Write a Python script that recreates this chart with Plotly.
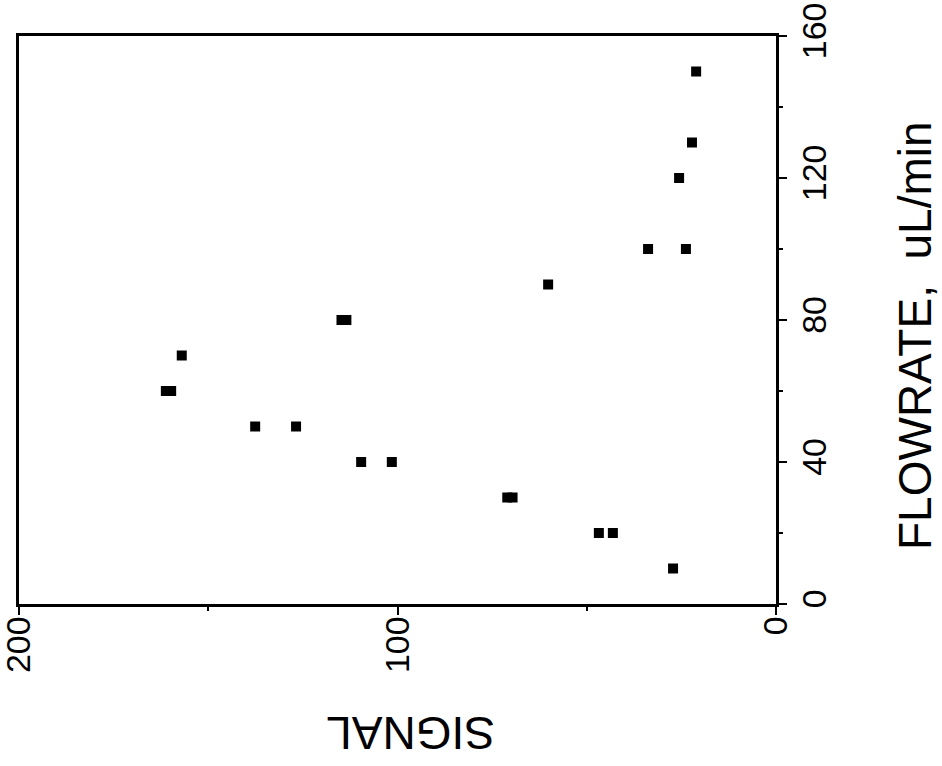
import plotly.graph_objects as go

# Data read from the (rotated) reference figure
flowrate = [10, 20, 20, 30, 30, 40, 40, 50, 50, 60, 60, 70, 80, 80, 90, 100, 100, 120, 130, 150]
signal = [27.2, 46.8, 43.1, 71.0, 69.6, 109.6, 101.5, 137.6, 126.8, 161.2, 159.8, 157.0,
          114.8, 113.5, 60.2, 33.8, 23.8, 25.6, 22.2, 21.1]

x_ticks = [0, 100, 200]
y_ticks = [0, 40, 80, 120, 160]

FONT = "Liberation Sans, Arial, Helvetica, sans-serif"

W, H = 942, 766
L, T = 19, 36
PW, PH = 776 - 19, 604 - 36
R = W - L - PW
B = H - T - PH

fig = go.Figure()
fig.add_trace(go.Scatter(
    x=signal, y=flowrate, mode="markers",
    marker=dict(symbol="square", size=10, color="black", line=dict(width=0)),
    showlegend=False, hoverinfo="skip"))

fig.update_layout(
    template="none",
    width=W, height=H,
    margin=dict(l=L, r=R, t=T, b=B, autoexpand=False),
    paper_bgcolor="white", plot_bgcolor="white",
    font=dict(family=FONT, color="black"),
    xaxis=dict(range=[200, 0], autorange=False, tickvals=x_ticks, automargin=False,
               ticktext=[str(v) for v in x_ticks], tickangle=-90,
               ticks="outside", ticklen=8, tickwidth=2, tickcolor="black",
               showline=True, linecolor="black", linewidth=2.5, mirror=True,
               showgrid=False, zeroline=False,
               tickfont=dict(size=34, family=FONT, color="black"),
               ticklabelstandoff=-12, ticklabeloverflow="allow",
               minor=dict(dtick=50, tick0=0, ticks="outside", ticklen=4,
                          tickwidth=2, tickcolor="black", showgrid=False)),
    yaxis=dict(range=[0, 160], autorange=False, tickvals=y_ticks, automargin=False,
               ticktext=[str(v) for v in y_ticks], tickangle=-90, side="right",
               ticks="outside", ticklen=8, tickwidth=2, tickcolor="black",
               showline=True, linecolor="black", linewidth=2.5, mirror=True,
               showgrid=False, zeroline=False,
               tickfont=dict(size=34, family=FONT, color="black"),
               ticklabelstandoff=-2, ticklabeloverflow="allow",
               minor=dict(dtick=20, tick0=0, ticks="outside", ticklen=4,
                          tickwidth=2, tickcolor="black", showgrid=False)),
)

# axis titles placed at page-pixel positions
titles = [("SIGNAL", 411, 733, 180, 46), ("FLOWRATE,  uL/min", 915, 336, -90, 46)]
for text, px, py, ang, size in titles:
    fig.add_annotation(
        text=text, showarrow=False, textangle=ang,
        xref="paper", yref="paper",
        x=(px - L) / PW, y=(H - B - py) / PH,
        xanchor="center", yanchor="middle",
        font=dict(size=size, family=FONT, color="black"))

fig.write_html("out.html", config={"displayModeBar": False},
               post_script="document.body.style.margin='0';")
